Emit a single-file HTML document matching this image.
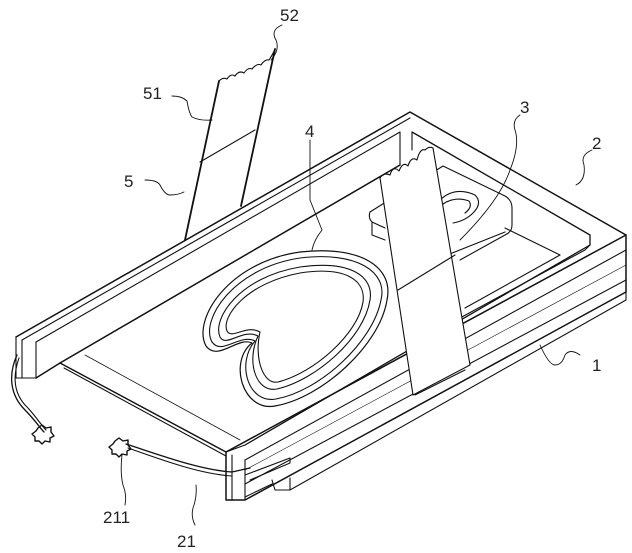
<!DOCTYPE html>
<html><head><meta charset="utf-8"><style>
html,body{margin:0;padding:0;background:#fff;}
svg{display:block;}
text{font-family:"Liberation Sans",sans-serif;font-size:17px;fill:#222;}
</style></head><body>
<svg width="632" height="553" viewBox="0 0 632 553" xmlns="http://www.w3.org/2000/svg">
<g fill="none" stroke="#111" stroke-width="1.1" stroke-linejoin="round" stroke-linecap="round">
<!-- strap 5 -->
<path d="M185 240 L219 81" stroke-width="1.8"/>
<path d="M241 206 L275 49" stroke-width="1.8"/>
<path d="M219 81 q4 -4 8 -2 q4 -6 8 -3 q4 -6 9 -3 q4 -6 8 -4 q5 -6 9 -4 q4 -6 8 -5 q4 -6 6 -11"/>
<path d="M200 162 L255 130"/>
<!-- base plate (1) below frame -->
<path d="M245 497 L272 484"/>
<path d="M272 480 L275 490 L290 490 L626 300 L626 290"/>
<path d="M290 490 L290 478"/>
<!-- outer frame top surface -->
<path d="M16 337 L410 112 L626 235 L226 452" stroke-width="1.5"/>
<path d="M626 235 L626 292 L245 500 L226 500 L226 452" stroke-width="1.5"/>
<path d="M245 460 L626 250"/>
<path d="M245 460 L245 500"/>
<path d="M232 455 L232 500"/>
<path d="M245 484 L626 280"/>
<path d="M245 470 L626 265" stroke-width="0.6"/>
<!-- back bar -->
<path d="M22 340 L410 118"/>
<path d="M36 342 L400 132"/>
<path d="M16 337 L16 378 L36 378 L36 342"/>
<path d="M22 340 L22 378"/>
<path d="M36 378 L60 363 L400 165" stroke-width="1.5"/>
<path d="M400 132 L400 165"/>
<path d="M412 132 L412 150"/>
<!-- inner frame -->
<path d="M412 132 L590 235 L590 245 L245 445" stroke-width="1.3"/>
<path d="M590 245 L585 250 L460 318"/>
<path d="M560 255 L505 228"/>
<path d="M560 255 L465 308"/>
<path d="M226 452 L245 445"/>
<!-- plate edge visible left open end -->
<path d="M60 363 L226 452" stroke-width="1.4"/>
<path d="M64 368 L226 456"/>
<path d="M85 355 L240 440" stroke-width="0.8"/>
<!-- floor lines -->
<path d="M397 275 L505 232"/>
<path d="M415 395 L465 370"/>
<!-- boss -->
<path d="M370 212 L443 166 L505 196 Q512 200 512 208 L512 225 Q512 232 505 235 L460 260"/>
<path d="M370 212 Q368 218 372 222 L372 235 L385 240"/>
<path d="M372 222 L385 228"/>
<path d="M440 200 q15 -14 35 -5 q8 8 -2 18 q-8 8 -20 10"/>
<path d="M443 204 q12 -8 26 -3 q4 6 -4 12"/>
<!-- strap 3 -->
<path d="M380 178 L413 395 L470 365 L433 148" fill="#fff"/>
<path d="M380 178 q4 -6 10 -3 q3 -10 9 -4 q4 -10 9 -5 q3 -10 9 -6 q3 -12 8 -10 q4 -4 8 -2"/>
<path d="M398 290 L455 255"/>
<!-- heart tube 4 -->
<g stroke-width="1.2" fill="#fff">
<path d="M252 343 C238 336 218 362 206 346 C192 320 228 262 300 252 C362 245 394 268 387 300 C380 345 322 398 275 406 C243 412 228 362 252 343 Z"/>
</g>
<g stroke-width="1.1">
<path d="M255 341 C240 333 222 356 212 342 C200 320 233 268 300 258 C357 251 388 272 381 300 C373 342 320 391 276 399 C248 404 236 363 255 341 Z"/>
<path d="M258 336 C243 328 226 348 220 337 C212 318 240 277 300 267 C350 260 374 276 370 300 C364 338 316 380 277 389 C256 393 246 362 258 336 Z"/>
<path d="M260 332 C246 324 232 340 227 331 C221 317 246 283 300 273 C345 266 366 280 363 302 C358 334 314 373 278 382 C263 385 254 358 260 332 Z"/>
</g>
<!-- front end slot -->
<path d="M245 475 L290 458 L290 463 L250 480"/>
<!-- cables -->
<path d="M17 355 C8 375 10 395 25 410 C35 420 40 428 44 432" stroke-width="1.3"/>
<path d="M19 358 C12 378 14 395 28 408 C37 418 42 426 46 430"/>
<path d="M126 444 C160 455 200 470 232 472 L250 468" stroke-width="1.3"/>
<path d="M128 448 C162 460 200 474 232 476"/>
<!-- connectors -->
<path d="M38 428 l4 -3 l4 3 l5 -1 l0 5 l3 4 l-4 2 l0 4 l-5 -1 l-3 3 l-3 -3 l-4 0 l0 -4 l-3 -3 l4 -3 Z" stroke-width="1.4"/>
<path d="M115 441 l4 -3 l4 3 l5 -1 l0 5 l3 4 l-4 2 l0 4 l-5 -1 l-3 3 l-3 -3 l-4 0 l0 -4 l-3 -3 l4 -3 Z" stroke-width="1.4"/>
<!-- leader lines -->
<path d="M282 25 q-12 5 -6 15 q4 10 -5 20" stroke-width="0.9"/>
<path d="M172 96 q10 0 15 5 q2 12 5 16 q8 4 20 3" stroke-width="0.9"/>
<path d="M145 180 q12 0 15 5 q5 10 10 10 q8 0 14 -3" stroke-width="0.9"/>
<path d="M310 140 L310 200 q8 20 12 30 q-8 10 -10 20" stroke-width="0.9"/>
<path d="M520 115 q-8 5 -5 15 q5 15 -5 40 q-10 30 -50 70" stroke-width="0.9"/>
<path d="M592 150 q-12 5 -8 15 q2 15 -8 20" stroke-width="0.9"/>
<path d="M580 355 q-10 -7 -15 0 q-3 10 -10 10 q-6 0 -15 -20" stroke-width="0.9"/>
<path d="M125 505 q2 -10 -2 -20 q-3 -12 -1 -30" stroke-width="0.9"/>
<path d="M195 525 q-5 -10 -1 -20 q3 -10 2 -20" stroke-width="0.9"/>
</g>
<text x="280" y="21">52</text>
<text x="143" y="99">51</text>
<text x="124" y="187">5</text>
<text x="305" y="137">4</text>
<text x="520" y="113">3</text>
<text x="592" y="149">2</text>
<text x="592" y="371">1</text>
<text x="103" y="523">211</text>
<text x="177" y="547">21</text>
</svg>
</body></html>
